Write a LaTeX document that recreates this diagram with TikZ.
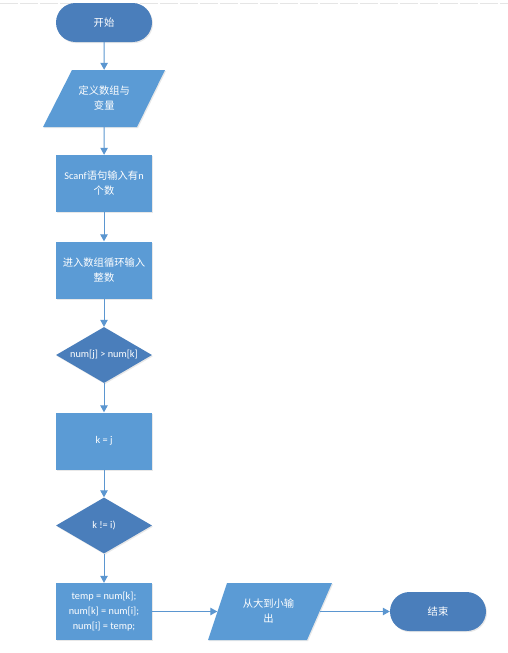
\documentclass[tikz,border=0pt]{standalone}
\usepackage{fontspec}
\setmainfont{Carlito}
\newfontfamily\cjk{Noto Sans CJK SC}
\usetikzlibrary{shapes.geometric,arrows.meta,shadows}
\definecolor{darkblue}{RGB}{74,126,187}
\definecolor{lightblue}{RGB}{91,155,213}
\definecolor{arrowblue}{RGB}{91,150,208}
\tikzset{
  txt/.style={text=white, font=\fontsize{10.3}{15}\selectfont, align=center},
  base/.style={txt, inner sep=0pt,
    drop shadow={opacity=0.18, shadow xshift=1pt, shadow yshift=-1.2pt}},
  terminal/.style={base, fill=darkblue, rounded corners=19.5pt, minimum width=96pt, minimum height=39pt},
  process/.style={base, fill=lightblue, minimum width=96pt, minimum height=57pt},
  decision/.style={fill=darkblue, diamond, aspect=1.714, inner sep=0pt, minimum width=96pt, minimum height=56pt,
    drop shadow={opacity=0.18, shadow xshift=1pt, shadow yshift=-1.2pt}},
  dtext/.style={label={[txt]center:#1}},
  iobox/.style={txt, inner sep=0pt, minimum height=57pt},
  iofill/.style={fill=lightblue, drop shadow={opacity=0.18, shadow xshift=1pt, shadow yshift=-1.2pt}},
  conn/.style={draw=arrowblue, line width=1pt, -{Triangle[length=7pt,width=7.5pt]}}
}
\begin{document}
\begin{tikzpicture}[x=1pt,y=-1pt]
\useasboundingbox (0,0) rectangle (508,653);
\draw[black!10, line width=0.8pt, dash pattern=on 18pt off 2pt] (0,3) -- (508,3);

% parallelogram backgrounds
\fill[iofill] (72,70) -- (165,70) -- (137,127) -- (43,127) -- cycle;
\fill[iofill] (227,583) -- (332,583) -- (307,640) -- (208,640) -- cycle;

\node[terminal] (start) at (104,22.5) {\cjk 开始};
\node[iobox, minimum width=93.5pt] (define) at (104.25,98.5) {\cjk 定义数组与\\\cjk 变量};
\node[process] (scan) at (104,183.5) {Scanf{\cjk 语句输入有}n\\{\cjk 个数}};
\node[process] (loop) at (104,270) {\cjk 进入数组循环输入\\\cjk 整数};
\node[decision, dtext={num[j] \textgreater{} num[k]}] (cmp) at (104,355) {};
\node[process] (assign) at (104,441) {k = j};
\node[decision, dtext={k != i)}] (neq) at (104,525.5) {};
\node[process] (swap) at (104,611.5) {temp = num[k];\\num[k] = num[i];\\num[i] = temp;};
\node[iobox, minimum width=102pt] (out) at (268.5,611.5) {\cjk 从大到小输\\\cjk 出};
\node[terminal] (end) at (438,611.5) {\cjk 结束};

\draw[conn] (start) -- (define);
\draw[conn] (define) -- (scan);
\draw[conn] (scan) -- (loop);
\draw[conn] (loop) -- (cmp);
\draw[conn] (cmp) -- (assign);
\draw[conn] (assign) -- (neq);
\draw[conn] (neq) -- (swap);
\draw[conn] (swap) -- (out);
\draw[conn] (out) -- (end);
\end{tikzpicture}
\end{document}
